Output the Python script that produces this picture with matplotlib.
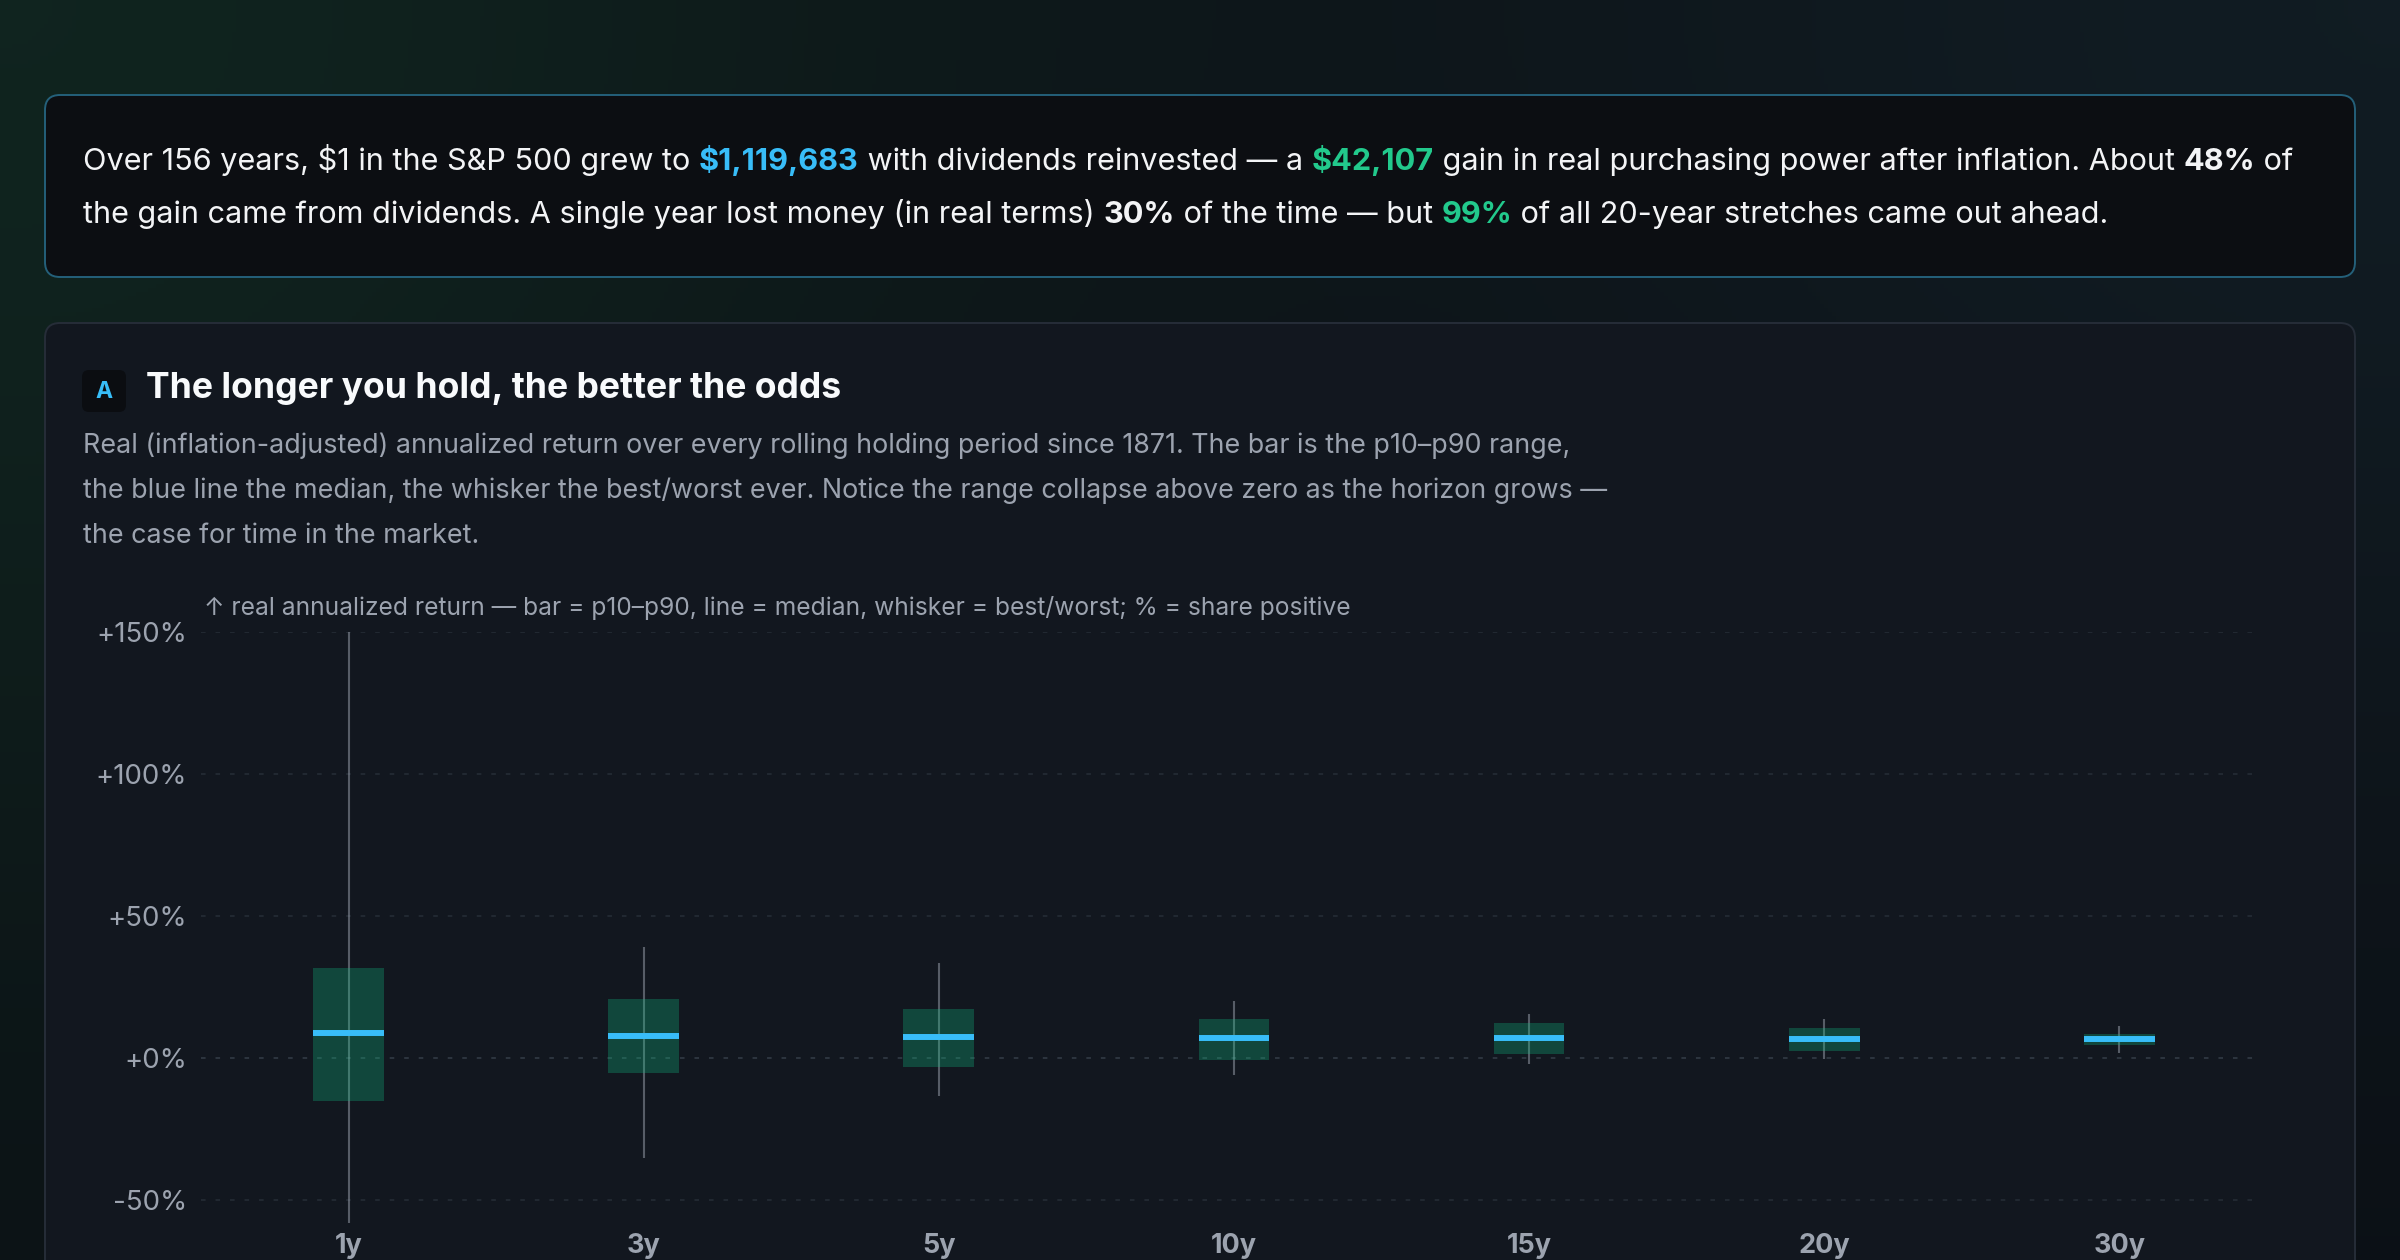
import numpy as np
import matplotlib.pyplot as plt
from matplotlib.patches import FancyBboxPatch

plt.rcParams['font.family'] = ['Inter', 'DejaVu Sans']

# rolling real annualized returns, %
horizons = ["1y", "3y", "5y", "10y", "15y", "20y", "30y"]
worst = [-58.1, -35.2, -13.4, -6.0, -2.2, -0.4, 1.8]
p10 = [-15.1, -5.4, -3.2, -0.7, 1.4, 2.5, 4.4]
median = [8.7, 7.5, 7.3, 6.9, 6.8, 6.7, 6.6]
p90 = [31.5, 20.6, 17.1, 13.6, 12.1, 10.5, 8.5]
best = [150.0, 39.0, 33.2, 19.9, 15.4, 13.6, 11.1]

y_ticks = [-50, 0, 50, 100, 150]
y_labels = ["-50%", "+0%", "+50%", "+100%", "+150%"]

WHITE = '#f3f4f6'
GRAY = '#9ca3af'
BLUE = '#38bdf8'
GREEN = '#22c98c'

summary1 = [("Over 156 years, $1 in the S&P 500 grew to ", 'normal', WHITE),
            ("$1,119,683", 'bold', BLUE),
            (" with dividends reinvested — a ", 'normal', WHITE),
            ("$42,107", 'bold', GREEN),
            (" gain in real purchasing power after inflation. About ", 'normal', WHITE),
            ("48%", 'bold', WHITE),
            (" of", 'normal', WHITE)]
summary2 = [("the gain came from dividends. A single year lost money (in real terms) ", 'normal', WHITE),
            ("30%", 'bold', WHITE),
            (" of the time — but ", 'normal', WHITE),
            ("99%", 'bold', GREEN),
            (" of all 20-year stretches came out ahead.", 'normal', WHITE)]

title = "The longer you hold, the better the odds"
desc = ["Real (inflation-adjusted) annualized return over every rolling holding period since 1871. The bar is the p10–p90 range,",
        "the blue line the median, the whisker the best/worst ever. Notice the range collapse above zero as the horizon grows —",
        "the case for time in the market."]
note = "↑ real annualized return — bar = p10–p90, line = median, whisker = best/worst; % = share positive"

W, H = 2400, 1260
fig = plt.figure(figsize=(24, 12.6), dpi=100)

# page background in pixel coordinates
bg = fig.add_axes([0, 0, 1, 1])
bg.set_xlim(0, W)
bg.set_ylim(H, 0)
bg.axis('off')

yy, xx = np.mgrid[0:H:4, 0:W:4]
base = np.array([11, 15, 20]) / 255
glow_g = np.exp(-((xx / 1000) ** 2 + (yy / 1000) ** 2))[..., None] * np.array([5, 21, 11]) / 255
glow_b = np.exp(-(((W - xx) / 1000) ** 2 + (yy / 900) ** 2))[..., None] * np.array([6, 13, 15]) / 255
img = np.clip(base + glow_g + glow_b, 0, 1)
bg.imshow(img, extent=(0, W, H, 0), aspect='auto', zorder=0)

bg.add_patch(FancyBboxPatch((45, 95), 2310, 182, boxstyle="round,pad=0,rounding_size=15",
                            fc='#0c0e12', ec='#24607a', lw=1.4, zorder=1))
bg.add_patch(FancyBboxPatch((45, 323), 2310, 1000, boxstyle="round,pad=0,rounding_size=15",
                            fc='#12171f', ec='#262d38', lw=1.4, zorder=1))
bg.add_patch(FancyBboxPatch((82, 370), 44, 42, boxstyle="round,pad=0,rounding_size=7",
                            fc='#0b0d11', ec='none', zorder=2))

renderer = fig.canvas.get_renderer()


def draw_runs(x, y, runs, size):
    for txt, weight, color in runs:
        t = bg.text(x, y, txt, fontsize=size, fontweight=weight, color=color,
                    va='baseline', ha='left', zorder=3)
        x += t.get_window_extent(renderer=renderer).width


draw_runs(83, 170, summary1, 22.05)
draw_runs(83, 223, summary2, 22.05)

bg.text(104, 398, "A", fontsize=16.5, fontweight='bold', color=BLUE, ha='center', va='baseline', zorder=3)
bg.text(146, 398, title, fontsize=25.6, fontweight='bold', color='#f8fafc', va='baseline', zorder=3)
for i, line in enumerate(desc):
    bg.text(83, 453 + 45 * i, line, fontsize=19.35, color=GRAY, va='baseline', zorder=3)
bg.text(204, 615, note, fontsize=17.7, color=GRAY, va='baseline', zorder=3)

# chart
ax = fig.add_axes([201 / W, 1 - 1233.8 / H, 2057 / W, 602.1 / H])
ax.patch.set_alpha(0)
for s in ax.spines.values():
    s.set_visible(False)

x = np.arange(len(horizons))
lo = np.array(p10)
hi = np.array(p90)

for v in y_ticks:
    ax.axhline(v, color='#343d48' if v == 0 else '#262e37', lw=1.1, ls=(0, (3, 6.5)), zorder=1)

ax.vlines(x, worst, best, color=GRAY, alpha=0.5, lw=1.5, zorder=2)
ax.bar(x, hi - lo, bottom=lo, width=0.24, color='#10b981', alpha=0.3, zorder=3)
ax.hlines(median, x - 0.12, x + 0.12, color=BLUE, lw=4.3, capstyle='butt', zorder=4)

ax.set_xlim(-0.5, 6.47)
ax.set_ylim(-62, 150)
ax.set_yticks(y_ticks, y_labels)
ax.set_xticks(x, horizons)
ax.tick_params(axis='y', length=0, pad=10, labelsize=19.9, labelcolor=GRAY)
ax.tick_params(axis='x', length=0, pad=13.8, labelsize=19.5, labelcolor=GRAY)
for lbl in ax.get_yticklabels():
    lbl.set_verticalalignment('center_baseline')
for lbl in ax.get_xticklabels():
    lbl.set_verticalalignment('baseline')
    lbl.set_fontweight('bold')

fig.savefig('out.png', dpi=100)
